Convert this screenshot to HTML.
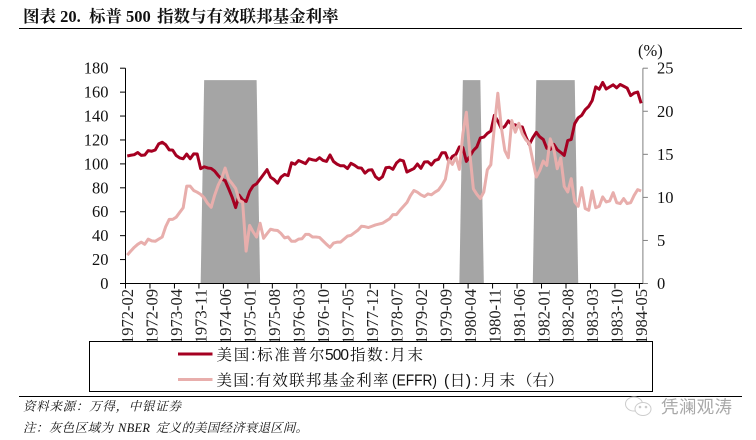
<!DOCTYPE html>
<html lang="zh">
<head>
<meta charset="utf-8">
<title>标普500指数与有效联邦基金利率</title>
<style>
html,body{margin:0;padding:0;background:#fff;width:756px;height:440px;overflow:hidden}
svg{display:block}
.num{font-family:"Liberation Serif","Noto Serif CJK SC",serif;font-size:16.5px;fill:#111}
.xl{font-family:"Liberation Serif","Noto Serif CJK SC",serif;font-size:16.5px;fill:#222}
.leg{font-family:"Liberation Sans","Noto Serif CJK SC",serif;font-size:15.5px;fill:#111}
.note{font-family:"Liberation Serif","Noto Serif CJK SC",serif;font-size:12.5px;font-style:italic;fill:#111}
.title{font-family:"Liberation Serif","Noto Serif CJK SC",serif;font-size:16.5px;font-weight:700;fill:#111}
</style>
</head>
<body>
<svg id="chart" xmlns="http://www.w3.org/2000/svg" width="756" height="440" viewBox="0 0 756 440">
  <text class="title" y="22"><tspan x="23">图表 20.</tspan><tspan x="89">标普</tspan><tspan x="126">500</tspan><tspan x="157">指数与有效联邦基金利率</tspan></text>
  <line x1="19" y1="28.5" x2="742" y2="28.5" stroke="#000" stroke-width="1"/>
  <g id="plot"></g>
  <text class="num" x="638" y="56">(%)</text>
  <rect x="89.5" y="341.5" width="563" height="50" fill="#fff" stroke="#000" stroke-width="1"/>
  <line x1="178" y1="354" x2="212.5" y2="354" stroke="#a50021" stroke-width="3"/>
  <g>
    <text class="leg" x="216.5" y="360" textLength="108" lengthAdjust="spacing">美国:标准普尔</text>
    <text class="leg" x="325" y="360" textLength="24" lengthAdjust="spacing">500</text>
    <text class="leg" x="350" y="360" textLength="73" lengthAdjust="spacing">指数:月末</text>
  </g>
  <line x1="178" y1="379.5" x2="212.5" y2="379.5" stroke="#e8aeac" stroke-width="3"/>
  <g>
    <text class="leg" x="216.5" y="385.5" textLength="172" lengthAdjust="spacing">美国:有效联邦基金利率</text>
    <text class="leg" x="392" y="385.5" textLength="45" lengthAdjust="spacingAndGlyphs">(EFFR)</text>
    <text class="leg" x="444" y="385.5" textLength="27" lengthAdjust="spacing">(日)</text>
    <text class="leg" x="474" y="385.5" textLength="41" lengthAdjust="spacing">:月末</text>
    <text class="leg" x="517" y="385.5">&#xFF08;右&#xFF09;</text>
  </g>
  <line x1="19" y1="396.5" x2="742" y2="396.5" stroke="#000" stroke-width="1"/>
  <text class="note" x="23" y="410.5" textLength="158" lengthAdjust="spacing">资料来源&#xFF1A;万得&#xFF0C;中银证券</text>
  <g>
    <text class="note" x="23" y="432" textLength="90" lengthAdjust="spacing">注&#xFF1A;灰色区域为</text>
    <text class="note" x="118" y="432" textLength="32" lengthAdjust="spacing">NBER</text>
    <text class="note" x="156" y="432" textLength="152" lengthAdjust="spacing">定义的美国经济衰退区间。</text>
  </g>
  <g fill="#fff" stroke="#cccccc" stroke-width="1">
    <ellipse cx="634" cy="404" rx="8.5" ry="7"/>
    <ellipse cx="643" cy="409" rx="8" ry="6.5"/>
    <circle cx="640" cy="407" r="0.8" fill="#bbb"/>
    <circle cx="646" cy="407" r="0.8" fill="#bbb"/>
  </g>
  <text x="661" y="413" textLength="71" lengthAdjust="spacing" style="font-family:'Liberation Sans','Noto Sans CJK SC',sans-serif;font-size:17.5px;fill:#a8a8a8">凭澜观涛</text>
</svg>
<script>
const spx = [106.6,107.2,107.7,109.5,107.1,107.4,111.1,110.6,111.6,116.7,118.1,116.0,111.7,111.5,107.0,105.0,104.3,108.2,104.3,108.4,108.3,96.0,97.6,96.6,96.2,94.0,90.3,87.3,86.0,79.3,72.2,63.5,73.9,70.0,68.6,77.0,81.6,83.4,87.3,91.2,95.2,88.8,86.9,83.9,89.0,91.2,90.2,100.9,99.7,102.8,101.6,100.2,104.3,103.4,102.9,105.2,102.9,102.1,107.5,102.0,99.8,98.4,98.4,96.1,100.5,98.9,96.8,96.5,92.3,94.8,95.1,89.3,87.0,89.2,96.8,97.2,95.5,100.7,103.3,102.5,93.2,94.7,96.1,99.9,96.3,101.6,101.8,99.1,102.9,103.8,109.3,109.3,101.8,106.2,107.9,114.2,113.7,102.1,106.3,111.2,114.2,121.7,122.4,125.5,127.5,140.5,135.8,129.6,131.3,136.0,132.8,132.6,131.2,130.9,122.8,116.2,121.9,126.4,122.6,120.4,113.1,112.0,116.4,111.9,109.6,107.1,119.5,120.4,133.7,138.5,140.6,145.3,148.1,153.0,164.4,162.4,168.1,162.6,164.4,166.1,163.6,166.4,164.9,163.4,157.1,159.2,160.1,150.6];
const effr = [3.3,3.76,4.2,4.55,4.8,4.55,5.15,4.95,4.9,5.15,5.4,6.6,7.45,7.45,7.7,8.25,8.8,11.3,11.3,10.8,10.6,10.35,9.95,9.3,8.85,10.25,11.4,12.2,13.4,12.1,11.6,11.05,9.65,9.45,3.76,6.75,6.0,5.4,7.0,5.25,5.8,6.3,6.2,6.15,5.8,5.3,5.4,4.9,4.9,5.15,5.2,5.7,5.7,5.4,5.4,5.35,4.95,4.55,4.2,4.7,4.8,4.8,5.15,5.5,5.6,5.9,6.2,6.65,6.6,6.5,6.65,6.8,6.9,7.0,7.25,7.5,8.0,8.0,8.5,8.95,9.4,10.2,10.8,10.6,10.3,10.1,10.4,10.3,10.6,10.85,11.4,12.1,14.37,13.83,14.68,13.25,17.38,19.89,15.06,11.0,10.36,9.86,10.63,13.21,13.79,18.15,22.09,18.15,15.45,14.6,18.92,17.57,18.6,17.38,16.69,16.3,14.29,12.36,13.13,14.22,13.71,16.8,15.64,13.33,14.6,11.28,10.63,12.17,9.47,8.97,11.13,8.7,8.5,10.74,8.8,8.97,10.05,9.47,9.59,10.55,9.39,9.28,9.86,9.28,9.39,10.24,10.9,10.74];
const recessionSpans = [[22,37],[96,101],[117,128]];
const recessionLevel = 170;
const leftTicks = [0,20,40,60,80,100,120,140,160,180];
const rightTicks = [0,5,10,15,20,25];
const xLabels = ["1972-02","1972-09","1973-04","1973-11","1974-06","1975-01","1975-08","1976-03","1976-10","1977-05","1977-12","1978-07","1979-02","1979-09","1980-04","1980-11","1981-06","1982-01","1982-08","1983-03","1983-10","1984-05"];
const labelStep = 7;

const NS = 'http://www.w3.org/2000/svg';
const plot = document.getElementById('plot');
const count = spx.length;
const plotLeft = 125.5, plotRight = 642.9, plotBottom = 283.5, plotTop = 68.2;
const band = (plotRight - plotLeft) / count;
function xBoundary(i){ return plotLeft + band * i; }
function xPoint(i){ return plotLeft + band * (i + 0.5); }
function yLeft(v){ return plotBottom - (plotBottom - plotTop) * v / 180; }
function yRight(v){ return plotBottom - (plotBottom - plotTop) * v / 25; }
function mk(tag, attrs){
  const el = document.createElementNS(NS, tag);
  for (const k in attrs) el.setAttribute(k, attrs[k]);
  return el;
}

recessionSpans.forEach(function(span){
  const pts = [
    [xPoint(span[0] - 1), yLeft(0)],
    [xPoint(span[0]), yLeft(recessionLevel)],
    [xPoint(span[1]), yLeft(recessionLevel)],
    [xPoint(span[1] + 1), yLeft(0)]
  ];
  const el = mk('polygon', {points: pts.map(function(p){return p.join(',');}).join(' '), fill: '#a5a5a5'});
  
  
  plot.appendChild(el);
});

function series(values, yFn, color, width, name){
  const pts = values.map(function(v, i){ return xPoint(i).toFixed(2) + ',' + yFn(v).toFixed(2); }).join(' ');
  const el = mk('polyline', {points: pts, fill: 'none', stroke: color, 'stroke-width': width, 'stroke-linejoin': 'round'});
  
  
  plot.appendChild(el);
}
series(spx, yLeft, '#a50021', 3, 'sp500-line');
series(effr, yRight, '#e8aeac', 3, 'effr-line');

const leftAxis = mk('line', {x1: plotLeft, y1: yLeft(180), x2: plotLeft, y2: plotBottom, stroke: '#000', 'stroke-width': 1});


plot.appendChild(leftAxis);

const rightAxis = mk('line', {x1: plotRight, y1: yRight(25), x2: plotRight, y2: plotBottom, stroke: '#808080', 'stroke-width': 1});


plot.appendChild(rightAxis);

const bottomAxis = mk('line', {x1: plotLeft, y1: plotBottom, x2: plotRight, y2: plotBottom, stroke: '#000', 'stroke-width': 1});


plot.appendChild(bottomAxis);

leftTicks.forEach(function(v){
  const y = yLeft(v);
  const t = mk('line', {x1: plotLeft - 5.5, y1: y, x2: plotLeft, y2: y, stroke: '#000', 'stroke-width': 1});
  
  
  plot.appendChild(t);
  const l = mk('text', {x: 108.5, y: y + 5.5, 'text-anchor': 'end', 'class': 'num'});
  
  
  l.textContent = v;
  plot.appendChild(l);
});

rightTicks.forEach(function(v){
  const y = yRight(v);
  const t = mk('line', {x1: plotRight, y1: y, x2: plotRight + 5, y2: y, stroke: '#808080', 'stroke-width': 1});
  
  
  plot.appendChild(t);
  const l = mk('text', {x: 657, y: y + 5.5, 'class': 'num'});
  
  
  l.textContent = v;
  plot.appendChild(l);
});

xLabels.forEach(function(label, n){
  const i = n * labelStep;
  const x = xBoundary(i);
  const t = mk('line', {x1: x, y1: plotBottom, x2: x, y2: plotBottom + 5, stroke: '#000', 'stroke-width': 1});
  
  
  plot.appendChild(t);
  const lx = xPoint(i) + 6;
  const l = mk('text', {x: lx, y: 289, 'class': 'xl', 'text-anchor': 'end', transform: 'rotate(-90 ' + lx + ' 289)'});
  
  
  l.textContent = label;
  plot.insertBefore(l, plot.firstChild);
});
</script>
</body>
</html>
